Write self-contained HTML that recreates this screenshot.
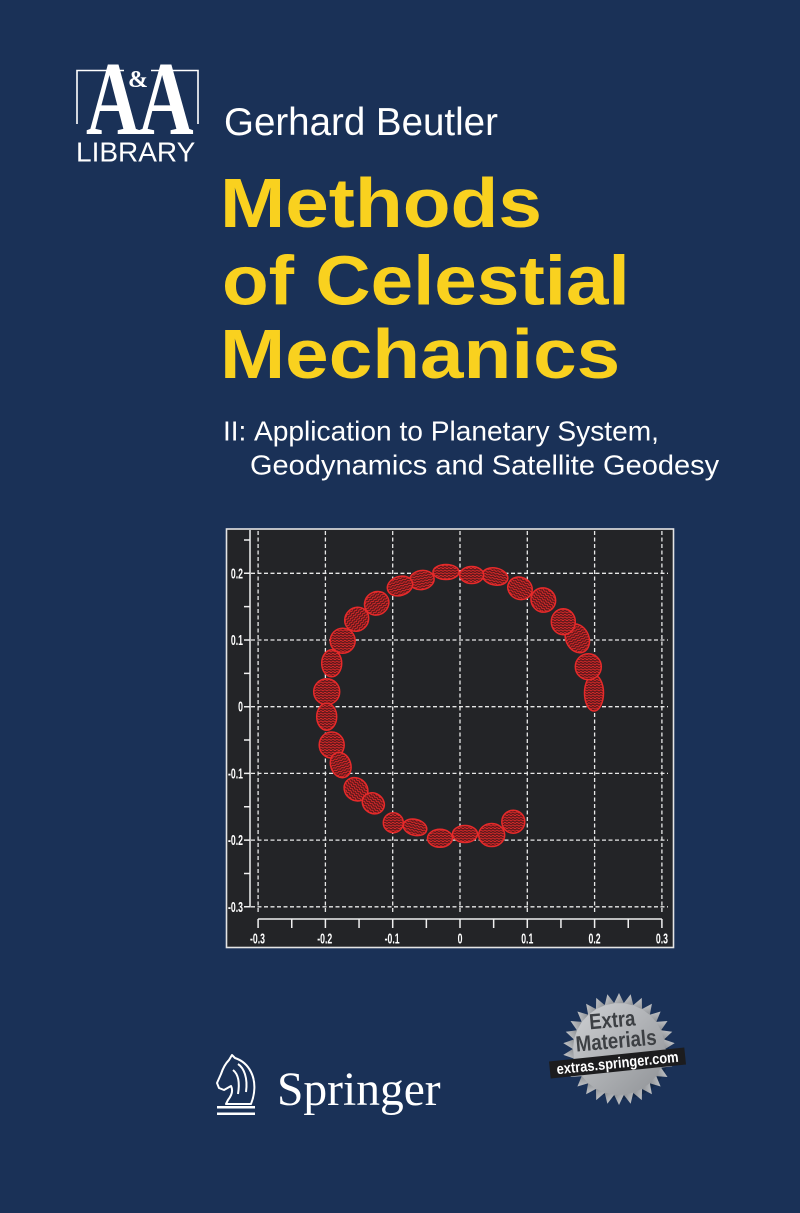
<!DOCTYPE html>
<html>
<head>
<meta charset="utf-8">
<style>
html,body{margin:0;padding:0;background:#1a3157;}
svg{display:block;}
</style>
</head>
<body>
<svg width="800" height="1213" viewBox="0 0 800 1213" xmlns="http://www.w3.org/2000/svg">
<defs>
  <pattern id="h" width="4" height="2.6" patternUnits="userSpaceOnUse">
    <rect width="4" height="2.6" fill="#5a181b"/>
    <path d="M0,1.3 Q1,0.3 2,1.3 T4,1.3" stroke="#e02a2a" stroke-width="0.9" fill="none"/>
  </pattern>
  <linearGradient id="bg" x1="0" y1="0" x2="1" y2="1">
    <stop offset="0" stop-color="#cfd1d4"/>
    <stop offset="1" stop-color="#8f9296"/>
  </linearGradient>
</defs>

<rect width="800" height="1213" fill="#1a3157"/>

<!-- A&A LIBRARY logo -->
<g fill="none" stroke="#ffffff" stroke-width="1.6">
  <path d="M77,124 L77,70.5 L198,70.5 L198,124"/>
</g>
<rect x="124" y="64" width="27" height="12" fill="#1a3157"/>
<g font-family="'Liberation Serif', serif" font-weight="bold" fill="#ffffff">
  <text transform="translate(86,134) scale(0.75,1.05)" font-size="100">A</text>
  <text transform="translate(138,134) scale(0.77,1.05)" font-size="100">A</text>
  <text transform="translate(128,87)" font-size="24">&amp;</text>
</g>
<text x="76" y="161.5" font-family="'Liberation Sans', sans-serif" font-size="28" fill="#ffffff">LIBRARY</text>

<!-- Author -->
<text x="224" y="135" font-family="'Liberation Sans', sans-serif" font-size="38.5" fill="#ffffff">Gerhard Beutler</text>

<!-- Title -->
<g font-family="'Liberation Sans', sans-serif" font-weight="bold" font-size="70" fill="#f9d11f">
  <text transform="translate(220,227) scale(1.119,1)">Methods</text>
  <text transform="translate(222,304.5) scale(1.092,1)">of Celestial</text>
  <text transform="translate(220,378) scale(1.118,1)">Mechanics</text>
</g>

<!-- Subtitle -->
<g font-family="'Liberation Sans', sans-serif" font-size="28" fill="#ffffff">
  <text x="223" y="440.5">II:</text>
  <text transform="translate(254,440.5) scale(1.005,1)">Application to Planetary System,</text>
  <text transform="translate(250,474.5) scale(1.036,1)">Geodynamics and Satellite Geodesy</text>
</g>

<!-- Chart -->
<rect x="226.5" y="529" width="447" height="418.5" fill="#232427" stroke="#e4e4e4" stroke-width="1.6"/>

<g stroke="#e8e8e8" stroke-width="1.3" stroke-dasharray="4 2.5" fill="none">
  <line x1="258.1" y1="531" x2="258.1" y2="913"/>
  <line x1="325.4" y1="531" x2="325.4" y2="913"/>
  <line x1="392.7" y1="531" x2="392.7" y2="913"/>
  <line x1="460" y1="531" x2="460" y2="913"/>
  <line x1="527.3" y1="531" x2="527.3" y2="913"/>
  <line x1="594.6" y1="531" x2="594.6" y2="913"/>
  <line x1="661.9" y1="531" x2="661.9" y2="913"/>
  <line x1="251" y1="573.3" x2="668" y2="573.3"/>
  <line x1="251" y1="640" x2="668" y2="640"/>
  <line x1="251" y1="706.7" x2="668" y2="706.7"/>
  <line x1="251" y1="773.4" x2="668" y2="773.4"/>
  <line x1="251" y1="840.1" x2="668" y2="840.1"/>
  <line x1="251" y1="906.8" x2="668" y2="906.8"/>
</g>

<g stroke="#f0f0f0" stroke-width="1.5" fill="none">
  <line x1="250" y1="530" x2="250" y2="907.5"/>
  <path d="M244,539.95H250M244,573.3H250M244,606.65H250M244,640H250M244,673.35H250M244,706.7H250M244,740.05H250M244,773.4H250M244,806.75H250M244,840.1H250M244,873.45H250M244,906.8H250"/>
  <line x1="258.1" y1="919" x2="661.9" y2="919"/>
  <path d="M258.1,919V928M291.75,919V928M325.4,919V928M359.05,919V928M392.7,919V928M426.35,919V928M460,919V928M493.65,919V928M527.3,919V928M560.95,919V928M594.6,919V928M628.25,919V928M661.9,919V928"/>
</g>

<g font-family="'Liberation Sans', sans-serif" font-weight="bold" font-size="14.5" fill="#ffffff" transform="scale(0.6,1)">
  <g text-anchor="end">
    <text x="405" y="578.3">0.2</text>
    <text x="405" y="645">0.1</text>
    <text x="405" y="711.7">0</text>
    <text x="405" y="778.4">-0.1</text>
    <text x="405" y="845.1">-0.2</text>
    <text x="405" y="911.8">-0.3</text>
  </g>
  <g text-anchor="middle">
    <text x="429.2" y="943.5">-0.3</text>
    <text x="541.3" y="943.5">-0.2</text>
    <text x="653.5" y="943.5">-0.1</text>
    <text x="766.7" y="943.5">0</text>
    <text x="878.8" y="943.5">0.1</text>
    <text x="991" y="943.5">0.2</text>
    <text x="1103.2" y="943.5">0.3</text>
  </g>
</g>

<!-- ellipsoids -->
<g fill="url(#h)" stroke="#e62a2a" stroke-width="1.5">
  <ellipse cx="594" cy="693" rx="9.5" ry="18"/>
  <ellipse cx="588.3" cy="666.7" rx="13" ry="13"/>
  <ellipse cx="577.3" cy="638.3" rx="11.5" ry="15" transform="rotate(-25 577.3 638.3)"/>
  <ellipse cx="563.3" cy="621.7" rx="12" ry="13"/>
  <ellipse cx="543.3" cy="600" rx="12.5" ry="12" transform="rotate(35 543.3 600)"/>
  <ellipse cx="520" cy="588.3" rx="12.5" ry="11" transform="rotate(25 520 588.3)"/>
  <ellipse cx="495" cy="576.5" rx="13" ry="8.5" transform="rotate(12 495 576.5)"/>
  <ellipse cx="471.7" cy="575" rx="12" ry="8.5"/>
  <ellipse cx="446" cy="572" rx="13" ry="7.5"/>
  <ellipse cx="421.7" cy="580" rx="12.5" ry="9.5" transform="rotate(-10 421.7 580)"/>
  <ellipse cx="400" cy="586" rx="13" ry="9.5" transform="rotate(-18 400 586)"/>
  <ellipse cx="376.7" cy="603.3" rx="12.5" ry="11.5" transform="rotate(-35 376.7 603.3)"/>
  <ellipse cx="356.7" cy="619.3" rx="12.5" ry="11.5" transform="rotate(-45 356.7 619.3)"/>
  <ellipse cx="342.7" cy="640.7" rx="12.5" ry="12.5"/>
  <ellipse cx="331.7" cy="663.3" rx="10" ry="13.5"/>
  <ellipse cx="326.7" cy="691.7" rx="13" ry="13"/>
  <ellipse cx="326.7" cy="716.7" rx="10" ry="13.5"/>
  <ellipse cx="331.7" cy="745" rx="12.5" ry="13"/>
  <ellipse cx="340.7" cy="765" rx="10" ry="13" transform="rotate(-20 340.7 765)"/>
  <ellipse cx="356" cy="789.3" rx="12.5" ry="11" transform="rotate(40 356 789.3)"/>
  <ellipse cx="373.3" cy="803.3" rx="11.5" ry="10" transform="rotate(35 373.3 803.3)"/>
  <ellipse cx="393.3" cy="822.7" rx="10" ry="10"/>
  <ellipse cx="415" cy="827.3" rx="12" ry="8" transform="rotate(15 415 827.3)"/>
  <ellipse cx="440" cy="838.3" rx="12.5" ry="9"/>
  <ellipse cx="465" cy="834" rx="12.5" ry="8.5"/>
  <ellipse cx="491.7" cy="835" rx="13" ry="11.5"/>
  <ellipse cx="513.3" cy="821.7" rx="11.5" ry="11.5"/>
</g>

<!-- Extra Materials badge -->
<g transform="translate(619,1049)">
  <circle r="47" fill="#0e1e36" opacity="0.45" transform="translate(3,3)"/>
  <g fill="url(#bg)">
    <circle r="46.5"/>
    <polygon points="0,-56 -4.9,-45.7 4.9,-45.7" transform="rotate(0)"/>
    <polygon points="0,-56 -4.9,-45.7 4.9,-45.7" transform="rotate(12)"/>
    <polygon points="0,-56 -4.9,-45.7 4.9,-45.7" transform="rotate(24)"/>
    <polygon points="0,-56 -4.9,-45.7 4.9,-45.7" transform="rotate(36)"/>
    <polygon points="0,-56 -4.9,-45.7 4.9,-45.7" transform="rotate(48)"/>
    <polygon points="0,-56 -4.9,-45.7 4.9,-45.7" transform="rotate(60)"/>
    <polygon points="0,-56 -4.9,-45.7 4.9,-45.7" transform="rotate(72)"/>
    <polygon points="0,-56 -4.9,-45.7 4.9,-45.7" transform="rotate(84)"/>
    <polygon points="0,-56 -4.9,-45.7 4.9,-45.7" transform="rotate(96)"/>
    <polygon points="0,-56 -4.9,-45.7 4.9,-45.7" transform="rotate(108)"/>
    <polygon points="0,-56 -4.9,-45.7 4.9,-45.7" transform="rotate(120)"/>
    <polygon points="0,-56 -4.9,-45.7 4.9,-45.7" transform="rotate(132)"/>
    <polygon points="0,-56 -4.9,-45.7 4.9,-45.7" transform="rotate(144)"/>
    <polygon points="0,-56 -4.9,-45.7 4.9,-45.7" transform="rotate(156)"/>
    <polygon points="0,-56 -4.9,-45.7 4.9,-45.7" transform="rotate(168)"/>
    <polygon points="0,-56 -4.9,-45.7 4.9,-45.7" transform="rotate(180)"/>
    <polygon points="0,-56 -4.9,-45.7 4.9,-45.7" transform="rotate(192)"/>
    <polygon points="0,-56 -4.9,-45.7 4.9,-45.7" transform="rotate(204)"/>
    <polygon points="0,-56 -4.9,-45.7 4.9,-45.7" transform="rotate(216)"/>
    <polygon points="0,-56 -4.9,-45.7 4.9,-45.7" transform="rotate(228)"/>
    <polygon points="0,-56 -4.9,-45.7 4.9,-45.7" transform="rotate(240)"/>
    <polygon points="0,-56 -4.9,-45.7 4.9,-45.7" transform="rotate(252)"/>
    <polygon points="0,-56 -4.9,-45.7 4.9,-45.7" transform="rotate(264)"/>
    <polygon points="0,-56 -4.9,-45.7 4.9,-45.7" transform="rotate(276)"/>
    <polygon points="0,-56 -4.9,-45.7 4.9,-45.7" transform="rotate(288)"/>
    <polygon points="0,-56 -4.9,-45.7 4.9,-45.7" transform="rotate(300)"/>
    <polygon points="0,-56 -4.9,-45.7 4.9,-45.7" transform="rotate(312)"/>
    <polygon points="0,-56 -4.9,-45.7 4.9,-45.7" transform="rotate(324)"/>
    <polygon points="0,-56 -4.9,-45.7 4.9,-45.7" transform="rotate(336)"/>
    <polygon points="0,-56 -4.9,-45.7 4.9,-45.7" transform="rotate(348)"/>
  </g>
</g>
<g transform="rotate(-5 617 1040)" font-family="'Liberation Sans', sans-serif" font-weight="bold" fill="#3d4044" text-anchor="middle">
  <text transform="translate(614,1027) scale(0.84,1)" font-size="22">Extra</text>
  <text transform="translate(616,1048) scale(0.85,1)" font-size="22">Materials</text>
</g>
<g transform="rotate(-5.9 617.5 1063)">
  <rect x="549.5" y="1054.5" width="136" height="17" fill="#1c1c1e"/>
  <text transform="translate(617.5,1068) scale(0.86,1)" text-anchor="middle" font-family="'Liberation Sans', sans-serif" font-weight="bold" font-size="15" fill="#ffffff">extras.springer.com</text>
</g>

<!-- Springer logo -->
<g fill="none" stroke="#ffffff" stroke-width="2" stroke-linejoin="round">
  <path d="M251,1104 C255,1094 256,1082 251,1072 C247,1064 241,1060 235,1058 L232,1055 L229,1060 C226,1063 223,1068 221,1074 L217,1083 L219,1088 L224,1090 L231,1086 C233,1090 232,1095 228,1100 L226,1104 Z"/>
  <path d="M238,1064 C244,1068 248,1078 246,1092"/>
  <path d="M233,1070 C238,1074 240,1082 238,1094"/>
</g>
<rect x="217" y="1106" width="38" height="2.5" fill="#ffffff"/>
<rect x="217" y="1112.5" width="38" height="2.5" fill="#ffffff"/>
<text transform="translate(277,1105) scale(0.99,1)" font-family="'Liberation Serif', serif" font-size="48" fill="#ffffff">Springer</text>

</svg>
</body>
</html>
